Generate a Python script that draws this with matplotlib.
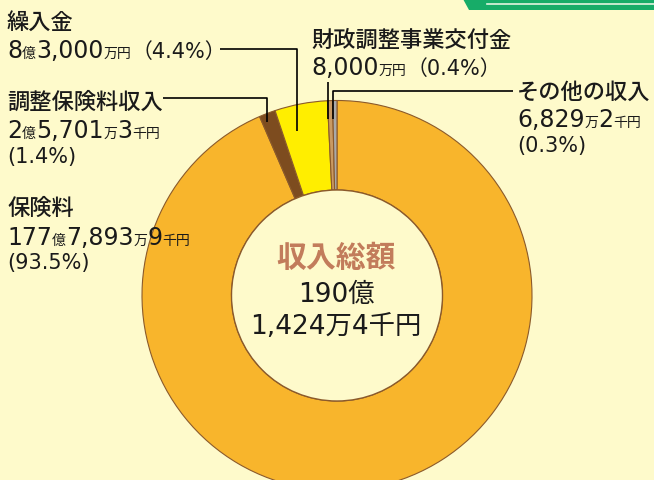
import matplotlib
matplotlib.use("Agg")
import matplotlib.pyplot as plt
from matplotlib.patches import Circle, Polygon

# 数字は DejaVu Sans、漢字は Noto Sans CJK JP にフォールバック
plt.rcParams['font.family'] = ['DejaVu Sans', 'Noto Sans CJK JP']

# 収入の内訳 (単位: 千円)
categories = ["保険料", "調整保険料収入", "繰入金", "財政調整事業交付金", "その他の収入"]
values = [17778939, 257013, 830000, 80000, 68292]
shares = ["93.5%", "1.4%", "4.4%", "0.4%", "0.3%"]
colors = ["#F8B52C", "#7D4C1F", "#FFEE00", "#C99A63", "#A9A9A9"]

total_title = "収入総額"
total_lines = ["190億", "1,424万4千円"]

BG = "#FEFACB"
EDGE = "#8B5A2B"
W, H = 654, 481

fig = plt.figure(figsize=(W / 100, H / 100), dpi=100, facecolor=BG)
ax = fig.add_axes([0, 0, 1, 1])
ax.set_facecolor(BG)

cx, cy = 337, H - 296.5
R, r = 195, 105.5

ax.pie(values, colors=colors, startangle=90, counterclock=False,
       center=(cx, cy), radius=R,
       wedgeprops=dict(width=R - r, edgecolor=EDGE, linewidth=0.8))
ax.add_patch(Circle((cx, cy), r, facecolor=BG, edgecolor=EDGE, lw=1.0, zorder=3))

ax.set_xlim(0, W)
ax.set_ylim(0, H)
ax.set_aspect('equal')
ax.axis('off')

# 右上の緑の帯
ax.add_patch(Polygon([(463, H), (469, H - 11), (W, H - 11), (W, H)],
                     closed=True, facecolor="#17AC68", edgecolor="none", zorder=5))
ax.plot([487, W], [H - 5, H - 5], color="#E2F4E0", lw=1.2, zorder=6)

renderer = fig.canvas.get_renderer()


def rich(x, y, parts, **kw):
    # parts: (文字, サイズ) を横に並べる
    for s, size in parts:
        t = ax.text(x, H - y, s, fontsize=size, va='baseline', ha='left',
                    color="#1a1a1a", zorder=10, **kw)
        x += t.get_window_extent(renderer).width
    return x


def line(pts):
    xs = [p[0] for p in pts]
    ys = [H - p[1] for p in pts]
    ax.plot(xs, ys, color="black", lw=1.2, zorder=8, solid_capstyle='butt')


BIG, SMALL, NAME, PCT = 17, 10, 16, 15
NW = 'medium'

# 繰入金
rich(7, 29, [(categories[2], NAME)], fontweight=NW)
rich(7, 58, [("8", BIG), ("億", SMALL), ("3,000", BIG), ("万円", SMALL),
             ("（" + shares[2] + "）", PCT)])
line([(220, 50), (297, 50), (297, 132)])

# 調整保険料収入
rich(7, 109, [(categories[1], NAME)], fontweight=NW)
rich(7, 138, [("2", BIG), ("億", SMALL), ("5,701", BIG), ("万", SMALL),
              ("3", BIG), ("千円", SMALL)])
rich(7, 163, [("(" + shares[1] + ")", PCT)])
line([(163, 99), (267, 99), (267, 123)])

# 保険料
rich(7, 215, [(categories[0], NAME)], fontweight=NW)
rich(7, 245, [("177", BIG), ("億", SMALL), ("7,893", BIG), ("万", SMALL),
              ("9", BIG), ("千円", SMALL)])
rich(7, 269, [("(" + shares[0] + ")", PCT)])

# 財政調整事業交付金
rich(311, 47, [(categories[3], NAME)], fontweight=NW)
rich(311, 75, [("8,000", BIG), ("万円", SMALL), ("（" + shares[3] + "）", PCT)])
line([(328, 83), (328, 120)])

# その他の収入
rich(517, 99, [(categories[4], NAME)], fontweight=NW)
rich(517, 127, [("6,829", BIG), ("万", SMALL), ("2", BIG), ("千円", SMALL)])
rich(517, 152, [("(" + shares[4] + ")", PCT)])
line([(513, 92), (333, 92), (333, 120)])

# 中央
ax.text(cx - 1, H - 267, total_title, fontsize=21.5, fontweight='bold',
        color="#C27C5B", ha='center', va='baseline', zorder=10)
ax.text(cx - 1, H - 302, total_lines[0], fontsize=19, color="#1a1a1a",
        ha='center', va='baseline', zorder=10)
ax.text(cx - 1, H - 334, total_lines[1], fontsize=19, color="#1a1a1a",
        ha='center', va='baseline', zorder=10)

fig.savefig("out.png", dpi=100, facecolor=BG)
